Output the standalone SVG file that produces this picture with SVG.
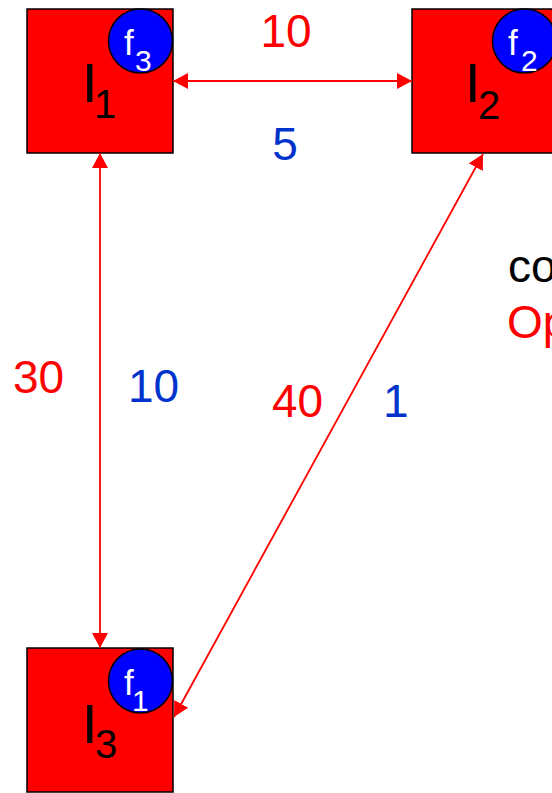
<svg xmlns="http://www.w3.org/2000/svg" width="552" height="793" viewBox="0 0 552 793">
<style>
.box{fill:#ff0000;stroke:#000;stroke-width:1.5}
.cir{fill:#0000ff;stroke:#000;stroke-width:1.5}
.nl{font-family:"Liberation Sans",Arial,sans-serif;fill:#000}
.fl{font-family:"Liberation Sans",Arial,sans-serif;fill:#fff}
.lab{font-family:"Liberation Sans",Arial,sans-serif;font-size:46px}
.red{fill:#ff0000}
.blue{fill:#0033cc}
.conn{stroke:#ff0000;stroke-width:1.8;fill:none;marker-start:url(#ah);marker-end:url(#ah)}
</style>
<defs>
<marker id="ah" viewBox="0 0 15 16" refX="15" refY="8" markerWidth="15" markerHeight="16" markerUnits="userSpaceOnUse" orient="auto-start-reverse">
<path d="M0,0 L15,8 L0,16 z" fill="#ff0000"/>
</marker>
</defs>
<rect width="552" height="793" fill="#fff"/>
<g id="I1">
<rect class="box" x="27" y="9" width="146" height="144"/>
<text class="nl"><tspan x="82" y="102" font-size="56">I</tspan><tspan x="94" y="118" font-size="40">1</tspan></text>
<circle class="cir" cx="140.5" cy="41" r="32"/>
<text class="fl"><tspan x="124" y="55" font-size="35">f</tspan><tspan x="135" y="71" font-size="30">3</tspan></text>
</g>
<g id="I2">
<rect class="box" x="412" y="9" width="146" height="144"/>
<text class="nl"><tspan x="465" y="102" font-size="56">I</tspan><tspan x="478" y="119" font-size="40">2</tspan></text>
<circle class="cir" cx="524.5" cy="41" r="32"/>
<text class="fl"><tspan x="508" y="55" font-size="35">f</tspan><tspan x="521" y="71" font-size="30">2</tspan></text>
</g>
<g id="I3">
<rect class="box" x="27" y="648" width="146" height="144"/>
<text class="nl"><tspan x="82" y="743" font-size="56">I</tspan><tspan x="95" y="758" font-size="40">3</tspan></text>
<circle class="cir" cx="140.5" cy="681" r="32"/>
<text class="fl"><tspan x="124" y="695" font-size="35">f</tspan><tspan x="132" y="711" font-size="30">1</tspan></text>
</g>
<g id="connectors">
<line class="conn" x1="173" y1="81" x2="412" y2="81"/>
<line class="conn" x1="100" y1="153" x2="100" y2="648"/>
<line class="conn" x1="483" y1="154" x2="174" y2="717"/>
</g>
<g id="labels">
<text class="lab red" x="286" y="47" text-anchor="middle">10</text>
<text class="lab blue" x="285" y="160" text-anchor="middle">5</text>
<text class="lab red" x="38.5" y="393" text-anchor="middle">30</text>
<text class="lab blue" x="153.5" y="402" text-anchor="middle">10</text>
<text class="lab red" x="297.5" y="417" text-anchor="middle">40</text>
<text class="lab blue" x="383" y="417">1</text>
<text class="lab" x="508" y="282" fill="#000">co</text>
<text class="lab red" x="507" y="338">Op</text>
</g>
</svg>
